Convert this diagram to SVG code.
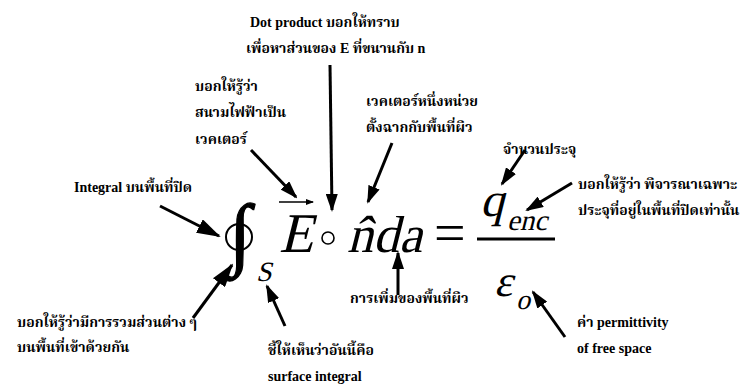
<svg xmlns="http://www.w3.org/2000/svg" width="740" height="385" viewBox="0 0 740 385">
<style>
.t{font-family:"Liberation Serif","Noto Serif Thai","Noto Sans Thai","Loma","Garuda",serif;font-weight:bold;font-size:14px;fill:#000}
.m{font-family:"Liberation Serif","Times New Roman",serif;fill:#000}
.a{stroke:#000;stroke-width:3;fill:none}
</style>
<defs>
<marker id="ah" viewBox="0 0 18 12" markerWidth="18" markerHeight="12" refX="16" refY="6" orient="auto" markerUnits="userSpaceOnUse"><path d="M0,0 L18,6 L0,12 z" fill="#000"/></marker>
<marker id="ahL" viewBox="0 0 24 15" markerWidth="24" markerHeight="15" refX="22" refY="7.5" orient="auto" markerUnits="userSpaceOnUse"><path d="M0,0 L24,7.5 L0,15 z" fill="#000"/></marker>
<marker id="ahS" viewBox="0 0 8 6" markerWidth="8" markerHeight="6" refX="7" refY="3" orient="auto" markerUnits="userSpaceOnUse"><path d="M0,0 L8,3 L0,6 z" fill="#000"/></marker>
</defs>
<rect width="740" height="385" fill="#fff"/>
<g id="equation">
<text class="m" x="240" y="260" font-size="80" text-anchor="middle" stroke="#000" stroke-width="1.2">∫</text>
<circle cx="239" cy="237" r="13" fill="none" stroke="#000" stroke-width="2"/>
<text class="m" transform="translate(256,281) skewX(-14)" font-size="28">S</text>
<line x1="279" y1="202" x2="313" y2="202" stroke="#000" stroke-width="1.5" marker-end="url(#ahS)"/>
<text class="m" transform="translate(279,252) skewX(-14)" font-size="56">E</text>
<circle cx="328" cy="238" r="6" fill="none" stroke="#000" stroke-width="1.6"/>
<text class="m" transform="translate(347,252) skewX(-14)" font-size="52">n̂da</text>
<text class="m" x="434" y="252" font-size="56">=</text>
<text class="m" transform="translate(480,216) skewX(-14)" font-size="48">q</text>
<text class="m" transform="translate(507,230) skewX(-14)" font-size="29">enc</text>
<line x1="477" y1="239" x2="555" y2="239" stroke="#000" stroke-width="3"/>
<text class="m" transform="translate(494,296) skewX(-14)" font-size="44">ε</text>
<text class="m" transform="translate(516,309) skewX(-14)" font-size="28">o</text>
</g>
<g id="n-dot"><text class="t" x="250" y="27">Dot product บอกให้ทราบ</text><text class="t" x="246" y="53">เพื่อหาส่วนของ E ที่ขนานกับ n</text></g>
<g id="n-vector"><text class="t" x="195" y="91">บอกให้รู้ว่า</text><text class="t" x="195" y="117">สนามไฟฟ้าเป็น</text><text class="t" x="195" y="144">เวคเตอร์</text></g>
<g id="n-unit"><text class="t" x="366" y="106">เวคเตอร์หนึ่งหน่วย</text><text class="t" x="366" y="132">ตั้งฉากกับพื้นที่ผิว</text></g>
<g id="n-charge"><text class="t" x="503" y="154">จำนวนประจุ</text></g>
<g id="n-enc"><text class="t" x="578" y="189">บอกให้รู้ว่า พิจารณาเฉพาะ</text><text class="t" x="578" y="215">ประจุที่อยู่ในพื้นที่ปิดเท่านั้น</text></g>
<g id="n-integral"><text class="t" x="74" y="192">Integral บนพื้นที่ปิด</text></g>
<g id="n-sum"><text class="t" x="17" y="327">บอกให้รู้ว่ามีการรวมส่วนต่าง ๆ</text><text class="t" x="17" y="352">บนพื้นที่เข้าด้วยกัน</text></g>
<g id="n-surface"><text class="t" x="268" y="355">ชี้ให้เห็นว่าอันนี้คือ</text><text class="t" x="268" y="381">surface integral</text></g>
<g id="n-da"><text class="t" x="350" y="303">การเพิ่มของพื้นที่ผิว</text></g>
<g id="n-eps"><text class="t" x="577" y="327">ค่า permittivity</text><text class="t" x="577" y="353">of free space</text></g>
<g id="connectors">
<line class="a" x1="330" y1="65" x2="332" y2="210" marker-end="url(#ah)"/>
<line class="a" x1="251" y1="150" x2="296" y2="197" marker-end="url(#ah)"/>
<line class="a" x1="392" y1="143" x2="368" y2="202" marker-end="url(#ah)"/>
<line class="a" x1="160" y1="206" x2="219" y2="236" marker-end="url(#ahL)"/>
<line class="a" x1="193" y1="318" x2="232" y2="265" marker-end="url(#ahL)"/>
<line class="a" x1="285" y1="326" x2="267" y2="286" marker-end="url(#ah)"/>
<line class="a" x1="398" y1="295" x2="398" y2="253" marker-end="url(#ah)"/>
<line class="a" x1="525" y1="150" x2="502" y2="184" marker-end="url(#ah)"/>
<line class="a" x1="572" y1="183" x2="527" y2="210" marker-end="url(#ah)"/>
<line class="a" x1="565" y1="337" x2="533" y2="292" marker-end="url(#ah)"/>
</g>
</svg>
